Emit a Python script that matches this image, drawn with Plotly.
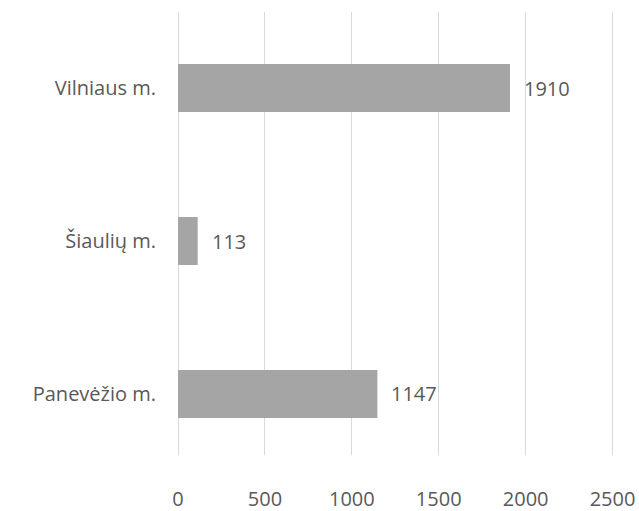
import plotly.graph_objects as go

categories = ['Panevėžio m.', 'Šiaulių m.', 'Vilniaus m.']
values = [1147, 113, 1910]
x_ticks = [0, 500, 1000, 1500, 2000, 2500]

bar_color = '#a5a5a5'
text_color = '#595959'
grid_color = '#d9d9d9'
font_family = 'Open Sans, Noto Sans, sans-serif'

fig = go.Figure()

fig.add_trace(go.Bar(
    x=values, y=categories,
    orientation='h',
    marker=dict(color=bar_color, line=dict(width=0)),
    width=0.314,
    hoverinfo='skip'
))

# value labels to the right of each bar
for cat, val in zip(categories, values):
    fig.add_annotation(
        x=val, y=cat, text=str(val),
        showarrow=False, xanchor='left', yanchor='middle',
        xshift=12,
        font=dict(family=font_family, size=20, color=text_color)
    )

fig.update_layout(
    width=639, height=511,
    margin=dict(l=177, r=23, t=12, b=56),
    paper_bgcolor='white', plot_bgcolor='white',
    showlegend=False,
    font=dict(family=font_family, size=20, color=text_color),
    xaxis=dict(
        range=[-6, 2520], tickvals=x_ticks,
        showgrid=True, gridcolor=grid_color, gridwidth=1,
        zeroline=True, zerolinecolor=grid_color, zerolinewidth=1,
        showline=False, automargin=False,
        ticklabelstandoff=30,
        tickfont=dict(size=20, color=text_color)
    ),
    yaxis=dict(
        range=[-0.399, 2.497],
        showgrid=False, zeroline=False, showline=False,
        automargin=False,
        ticklabelstandoff=20,
        tickfont=dict(size=20, color=text_color)
    )
)

# drop the default page margin so the figure fills the window exactly
fig.write_html(
    'out.html',
    config={'displayModeBar': False},
    post_script="document.body.style.margin='0';document.body.style.overflow='hidden';"
)
